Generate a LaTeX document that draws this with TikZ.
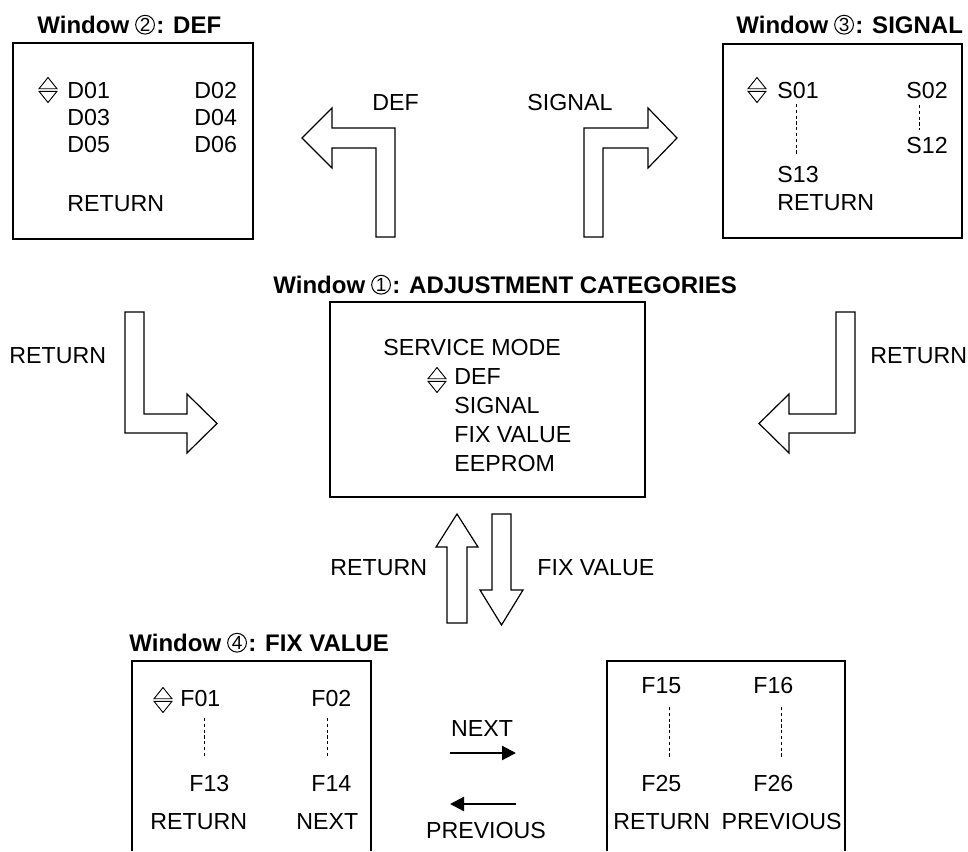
\documentclass[tikz,border=0pt]{standalone}
\usepackage{fontspec}
\setmainfont{Liberation Sans}
\usetikzlibrary{arrows.meta}
% window title: "Window", a ringed number, then the window name
\newcommand\windowtitle[5]{%
  \node[ttl] (#1w) at (#2,#3) {Window};
  \node[numring] (#1n) at ([shift={(15.5,-8.3)}]#1w.base east) {#4};
  \path (#1n.east |- #1w.base) coordinate (#1b);
  \node[ttl] (#1r) at ([shift={(1,0)}]#1b) {: #5};}
% up/down cursor mark centred on a coordinate
\newcommand\updowncursor[1]{%
  \draw[cursorline] ([shift={(-9,-1.3)}]#1) -- ([shift={(0,-12.5)}]#1) -- ([shift={(9,-1.3)}]#1) -- cycle;
  \draw[cursorline] ([shift={(-9,1.3)}]#1) -- ([shift={(0,12.5)}]#1) -- ([shift={(9,1.3)}]#1) -- cycle;}
\begin{document}
\begin{tikzpicture}[x=0.5pt,y=-0.5pt,line join=miter,
  lbl/.style={inner sep=0pt, anchor=base west, font=\fontsize{11.6}{13}\selectfont},
  ttl/.style={inner sep=0pt, anchor=base west, font=\fontsize{12}{14}\selectfont\bfseries},
  numring/.style={circle, draw, line width=0.5pt, inner sep=0pt, minimum size=9.4pt,
    font=\fontsize{9.5}{11}\selectfont},
  panel/.style={draw, line width=0.6pt},
  blockarrow/.style={draw, line width=0.6pt, fill=white},
  cursorline/.style={line width=0.45pt},
  dots/.style={line width=0.5pt, dash pattern=on 1.6pt off 1.3pt},
  flow/.style={line width=1.1pt, -{Triangle[length=7pt,width=7pt]}}]
\useasboundingbox (0,0) rectangle (968,851);

% ---------- Window 2: DEF ----------
\windowtitle{tdef}{37}{33}{2}{DEF}
\draw[panel] (13,43) rectangle (253,239);
\coordinate (curD) at (48,90);
\updowncursor{curD}
\node[lbl] (d01) at (67,98) {D01};
\node[lbl] (d02) at (194,98) {D02};
\node[lbl] (d03) at (67,125) {D03};
\node[lbl] (d04) at (194,125) {D04};
\node[lbl] (d05) at (67,152) {D05};
\node[lbl] (d06) at (194,152) {D06};
\node[lbl] (dret) at (67,211) {RETURN};

% ---------- Window 3: SIGNAL ----------
\windowtitle{tsig}{736}{33}{3}{SIGNAL}
\draw[panel] (723,44) rectangle (962,238);
\coordinate (curS) at (757,90);
\updowncursor{curS}
\node[lbl] (s01) at (777,98) {S01};
\node[lbl] (s02) at (906,98) {S02};
\node[lbl] (s12) at (906,153) {S12};
\node[lbl] (s13) at (777,182) {S13};
\node[lbl] (sret) at (777,210) {RETURN};
\draw[dots] (796,104) -- (796,155);
\draw[dots] (919,105) -- (919,130);

% ---------- bent arrows to the sub-windows ----------
\draw[blockarrow] (395,237) -- (395,128) -- (332,128) -- (332,108) -- (302,138)
  -- (332,168) -- (332,148) -- (376,148) -- (376,237) -- cycle;
\node[lbl] (ldef) at (372,110) {DEF};
\draw[blockarrow] (584,237) -- (584,128) -- (648,128) -- (648,108) -- (677,138)
  -- (648,168) -- (648,148) -- (603,148) -- (603,237) -- cycle;
\node[lbl] (lsig) at (527,110) {SIGNAL};

% ---------- Window 1: adjustment categories ----------
\windowtitle{tcat}{273}{293}{1}{ADJUSTMENT CATEGORIES}
\draw[panel] (330,302) rectangle (645,497);
\node[lbl] (svc) at (383,355) {SERVICE MODE};
\coordinate (curM) at (437,380);
\updowncursor{curM}
\node[lbl] (mdef) at (454,384) {DEF};
\node[lbl] (msig) at (454,413) {SIGNAL};
\node[lbl] (mfix) at (454,442) {FIX VALUE};
\node[lbl] (meep) at (454,471) {EEPROM};

% ---------- return arrows into window 1 ----------
\node[lbl] (lretl) at (9,363) {RETURN};
\draw[blockarrow] (125,312) -- (125,433) -- (187,433) -- (187,453) -- (217,423.5)
  -- (187,394) -- (187,414) -- (144,414) -- (144,312) -- cycle;
\node[lbl] (lretr) at (870,363) {RETURN};
\draw[blockarrow] (855,312) -- (855,433) -- (789,433) -- (789,453) -- (759,423.5)
  -- (789,394) -- (789,414) -- (836,414) -- (836,312) -- cycle;

% ---------- up / down arrows ----------
\draw[blockarrow] (447,623) -- (447,547) -- (436,547) -- (457,514) -- (478,547)
  -- (467,547) -- (467,623) -- cycle;
\draw[blockarrow] (492,514) -- (492,590) -- (480,590) -- (501.5,625) -- (523,590)
  -- (511,590) -- (511,514) -- cycle;
\node[lbl] (lretu) at (330,575) {RETURN};
\node[lbl] (lfix) at (537,575) {FIX VALUE};

% ---------- Window 4: FIX VALUE, first page ----------
\windowtitle{tfix}{129}{651}{4}{FIX VALUE}
\draw[panel] (132,851) -- (132,661) -- (371,661) -- (371,851);
\coordinate (curF) at (163,700);
\updowncursor{curF}
\node[lbl] (f01) at (180,706) {F01};
\node[lbl] (f02) at (311,706) {F02};
\node[lbl] (f13) at (189,791) {F13};
\node[lbl] (f14) at (311,791) {F14};
\node[lbl] (fret) at (150,829) {RETURN};
\node[lbl] (fnext) at (296,829) {NEXT};
\draw[dots] (204,718) -- (204,758);
\draw[dots] (327,718) -- (327,758);

% ---------- page switching ----------
\node[lbl, anchor=base] (lnext) at (482,736) {NEXT};
\coordinate (na) at (450,753);
\coordinate (nb) at (516,753);
\draw[flow] (na) -- (nb);
\coordinate (pa) at (516,804);
\coordinate (pb) at (450,804);
\draw[flow] (pa) -- (pb);
\node[lbl, anchor=base] (lprev) at (486,838) {PREVIOUS};

% ---------- Window 4: FIX VALUE, second page ----------
\draw[panel] (607,851) -- (607,661) -- (845,661) -- (845,851);
\node[lbl] (f15) at (641,693) {F15};
\node[lbl] (f16) at (753,693) {F16};
\node[lbl] (f25) at (641,791) {F25};
\node[lbl] (f26) at (753,791) {F26};
\node[lbl] (gret) at (613,829) {RETURN};
\node[lbl, anchor=base east] (gprev) at (842,829) {PREVIOUS};
\draw[dots] (669,707) -- (669,758);
\draw[dots] (781,707) -- (781,758);
\end{tikzpicture}
\end{document}
